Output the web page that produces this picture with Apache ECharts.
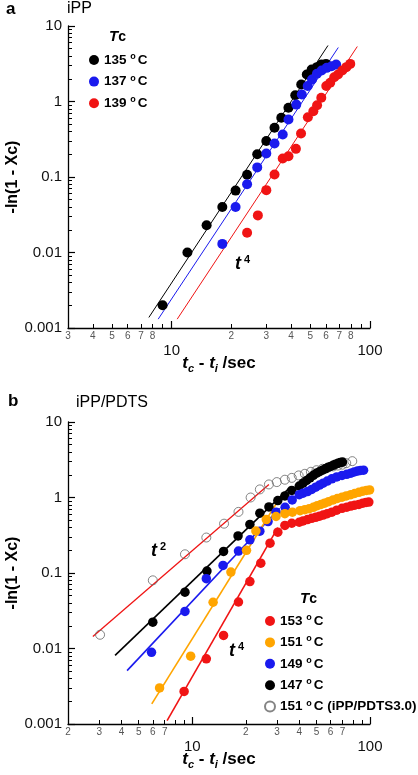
<!DOCTYPE html>
<html><head><meta charset="utf-8">
<script src="https://cdn.jsdelivr.net/npm/echarts@6/dist/echarts.min.js"></script>
<style>html,body{margin:0;padding:0;background:#fff}#c{width:418px;height:775px}</style>
</head><body><div id="c"></div>
<script>
// ---------- Panel a (iPP) ----------
const xa_135 = [9, 12, 15, 18, 21, 24, 27, 30, 33, 35.7, 38.8, 42, 45, 48, 50.8, 54, 57, 60];
const ya_135 = [0.002, 0.01, 0.023, 0.04, 0.066, 0.107, 0.2, 0.3, 0.448, 0.608, 0.825, 1.21, 1.68, 2.28, 2.65, 2.85, 3.1, 3.15];
const xa_137 = [18, 21, 24, 27, 30, 33, 36.3, 38.8, 42.5, 45.3, 48.5, 51, 54, 57, 60.5, 64, 67.5];
const ya_137 = [0.013, 0.04, 0.08, 0.134, 0.205, 0.278, 0.366, 0.577, 0.91, 1.24, 1.6, 1.96, 2.33, 2.57, 2.79, 2.93, 3.08];
const xa_139 = [24, 27.2, 30, 33, 36.3, 38.8, 42.3, 44.9, 48.6, 51.8, 54.1, 56.8, 60.2, 63, 66, 69, 72.5, 76, 79.5];
const ya_139 = [0.0183, 0.031, 0.067, 0.108, 0.176, 0.188, 0.236, 0.377, 0.62, 0.744, 0.894, 1.12, 1.6, 1.77, 2.1, 2.28, 2.57, 2.85, 3.15];
// t^4 fit lines (two end points each)
const fitA_135 = [[7.67, 0.00138], [61.4, 5.52]];
const fitA_137 = [[8.55, 0.00131], [69.2, 5.19]];
const fitA_139 = [[10.66, 0.00131], [86.3, 5.35]];
const namesA = ['135 °C', '137 °C', '139 °C'];

// ---------- Panel b (iPP/PDTS) ----------
const xb_153 = [9, 12, 15, 18.2, 21.1, 24.3, 27.4, 30.3, 33.2, 36.3, 40, 42, 44.5, 47, 49.5, 52, 54.5, 57.5, 61, 65, 69.6, 74, 78, 82, 86.6, 91, 95, 98.5];
const yb_153 = [0.0027, 0.0073, 0.0149, 0.0413, 0.077, 0.135, 0.248, 0.347, 0.426, 0.456, 0.47, 0.49, 0.51, 0.53, 0.546, 0.565, 0.586, 0.61, 0.64, 0.68, 0.72, 0.745, 0.77, 0.79, 0.81, 0.84, 0.86, 0.87];
const xb_151 = [6.55, 9.8, 13.1, 16.5, 20.2, 22.8, 26.1, 29.6, 33.2, 36.6, 40.4, 43, 45.5, 48, 50.5, 53, 55.5, 58.5, 62, 65.5, 69.6, 73.5, 78, 82, 86.6, 91, 95.5, 99.5];
const yb_151 = [0.003, 0.0079, 0.041, 0.103, 0.2, 0.36, 0.51, 0.56, 0.61, 0.64, 0.67, 0.69, 0.71, 0.74, 0.78, 0.81, 0.84, 0.88, 0.93, 0.97, 1.01, 1.05, 1.09, 1.13, 1.17, 1.21, 1.24, 1.26];
const xb_149 = [5.9, 9.1, 12, 14.9, 18.2, 21.1, 24, 26.7, 29.6, 33.3, 36.5, 40, 42, 44.5, 47, 49.5, 52, 54.5, 57.5, 61, 65, 69.6, 74, 78, 81.5, 85, 88.5, 92];
const yb_149 = [0.0089, 0.031, 0.084, 0.126, 0.195, 0.275, 0.358, 0.48, 0.64, 0.74, 0.93, 1.09, 1.14, 1.2, 1.28, 1.37, 1.46, 1.55, 1.65, 1.77, 1.87, 1.96, 2.03, 2.1, 2.18, 2.24, 2.28, 2.3];
const xb_147 = [6, 9.1, 12.1, 15, 18.1, 21.1, 24, 27, 30.3, 33.2, 36.3, 40, 42, 44, 46, 48, 50, 52, 54, 56, 58, 60, 62, 64, 66, 68, 70];
const yb_147 = [0.0223, 0.0557, 0.106, 0.193, 0.31, 0.44, 0.62, 0.75, 0.91, 1.05, 1.24, 1.42, 1.55, 1.68, 1.82, 1.97, 2.1, 2.2, 2.3, 2.4, 2.5, 2.58, 2.67, 2.76, 2.84, 2.9, 2.95];
const xb_open = [3.03, 6, 9.1, 12, 15.1, 18.2, 21.3, 24, 27, 29.9, 33.2, 36.3, 39.7, 43, 46.5, 50, 54, 58, 62, 66, 70, 73.5, 79.5];
const yb_open = [0.0152, 0.08, 0.177, 0.295, 0.45, 0.645, 1.0, 1.28, 1.49, 1.6, 1.72, 1.82, 1.96, 2.06, 2.19, 2.3, 2.4, 2.5, 2.58, 2.65, 2.72, 2.85, 3.03];
// fit lines
const fitB_open = [[2.76, 0.0144], [27.0, 1.49]];
const fitB_147 = [[3.68, 0.0081], [34.8, 1.3]];
const fitB_149 = [[4.3, 0.0051], [31.0, 0.72]];
const fitB_151 = [[5.92, 0.00185], [31.2, 1.0]];
const fitB_153 = [[7.22, 0.00111], [30.3, 0.40]];
const namesB = ['153 °C', '151 °C', '149 °C', '147 °C', '151 °C (iPP/PDTS3.0)'];

// ---------- tick labels ----------
const xMajorLabels = [10, 100];
const xMinorLabelsA = [3, 4, 5, 6, 7, 8, 20, 30, 40, 50, 60, 70, 80];
const xMinorLabelsB = [2, 3, 4, 5, 6, 7, 20, 30, 40, 50, 60, 70];
const yMajorLabels = [0.001, 0.01, 0.1, 1, 10];

function minorTicks(lo, hi) {
  const out = [];
  for (let d = lo; d < hi; d *= 10) {
    for (let k = 1; k <= 9; k++) out.push(+(k * d).toPrecision(6));
  }
  return out;
}

const FONT = '"Liberation Sans", Arial, sans-serif';
const pair = (xs, ys) => xs.map((x, i) => [x, ys[i]]);
const C_RED = '#f01414', C_BLUE = '#1a1aee', C_ORANGE = '#ffa500', C_BLACK = '#000000';

const xNameRich = {
  t: { fontSize: 17, fontWeight: 'bold', fontStyle: 'italic', fontFamily: FONT, lineHeight: 22, color: '#000' },
  s: { fontSize: 11, fontWeight: 'bold', fontStyle: 'italic', fontFamily: FONT, verticalAlign: 'bottom', color: '#000' },
  n: { fontSize: 17, fontWeight: 'bold', fontFamily: FONT, lineHeight: 22, color: '#000' }
};
const xName = '{t|t}{s|c}{n| - }{t|t}{s|i}{n| /sec}';

function xAxes(g, min, minorLabels) {
  const major = {
    type: 'log', logBase: 10, gridIndex: g, min: min, max: 100, position: 'bottom',
    axisLine: { show: true, onZero: false, lineStyle: { color: '#000', width: 1.3 } },
    axisTick: { show: true, inside: true, length: 7, customValues: xMajorLabels, lineStyle: { color: '#000', width: 1.2 } },
    axisLabel: { show: true, customValues: xMajorLabels, margin: 15, fontSize: 15, color: '#111', fontFamily: FONT, formatter: v => String(v) },
    splitLine: { show: false }, minorTick: { show: false },
    name: xName, nameLocation: 'middle', nameGap: 24, nameMoveOverlap: false,
    nameTextStyle: { rich: xNameRich }
  };
  const minor = {
    type: 'log', logBase: 10, gridIndex: g, min: min, max: 100, position: 'bottom',
    axisLine: { show: false },
    axisTick: { show: true, inside: true, length: 4, customValues: minorTicks(1, 100).filter(v => v >= min && v <= 100), lineStyle: { color: '#000', width: 1 } },
    axisLabel: { show: true, customValues: minorLabels, margin: 3, fontSize: 10, color: '#555', fontFamily: FONT,
      formatter: v => String(Math.round(v / Math.pow(10, Math.floor(Math.log10(v) + 1e-9)))) },
    splitLine: { show: false }, minorTick: { show: false }
  };
  return [major, minor];
}
function yAxes(g) {
  const major = {
    type: 'log', logBase: 10, gridIndex: g, min: 0.001, max: 10, position: 'left',
    axisLine: { show: true, onZero: false, lineStyle: { color: '#000', width: 1.3 } },
    axisTick: { show: true, inside: true, length: 7, customValues: yMajorLabels, lineStyle: { color: '#000', width: 1.2 } },
    axisLabel: { show: true, customValues: yMajorLabels, margin: 6, fontSize: 15, color: '#111', fontFamily: FONT, formatter: v => String(v) },
    splitLine: { show: false }, minorTick: { show: false },
    name: '-ln(1 - Xc)', nameLocation: 'middle', nameGap: 47, nameMoveOverlap: false,
    nameTextStyle: { fontSize: 16, fontWeight: 'bold', fontFamily: FONT, color: '#000' }
  };
  const minor = {
    type: 'log', logBase: 10, gridIndex: g, min: 0.001, max: 10, position: 'left',
    axisLine: { show: false },
    axisTick: { show: true, inside: true, length: 4, customValues: minorTicks(0.001, 10), lineStyle: { color: '#000', width: 1 } },
    axisLabel: { show: false },
    splitLine: { show: false }, minorTick: { show: false }
  };
  return [major, minor];
}

function fitLine(name, data, color, xi, yi, w) {
  return { type: 'line', name: name, xAxisIndex: xi, yAxisIndex: yi, data: data, symbol: 'none', silent: true,
    lineStyle: { color: color, width: w }, z: 1 };
}
function dots(name, xs, ys, color, xi, yi, size) {
  return { type: 'scatter', name: name, xAxisIndex: xi, yAxisIndex: yi, data: pair(xs, ys), symbol: 'circle',
    symbolSize: size, itemStyle: { color: color, opacity: 1 }, z: 3 };
}

const legendRich = {
  n: { fontSize: 13.5, fontWeight: 'bold', fontFamily: FONT, color: '#000', lineHeight: 16 },
  o: { fontSize: 9, fontWeight: 'bold', fontFamily: FONT, color: '#000', verticalAlign: 'top', padding: [0, 2, 0, 0] }
};
const legendFmt = n => { const parts = n.split(' °C'); return '{n|' + parts[0] + ' }{o|o}{n|C' + parts[1] + '}'; };

const series = [
  fitLine('fitA135', fitA_135, C_BLACK, 0, 0, 1),
  fitLine('fitA137', fitA_137, C_BLUE, 0, 0, 1),
  fitLine('fitA139', fitA_139, C_RED, 0, 0, 1),
  dots(namesA[0], xa_135, ya_135, C_BLACK, 0, 0, 10),
  dots(namesA[1], xa_137, ya_137, C_BLUE, 0, 0, 10),
  dots(namesA[2], xa_139, ya_139, C_RED, 0, 0, 10),
  fitLine('fitBopen', fitB_open, C_RED, 2, 2, 1.3),
  fitLine('fitB147', fitB_147, C_BLACK, 2, 2, 1.6),
  fitLine('fitB149', fitB_149, C_BLUE, 2, 2, 1.6),
  fitLine('fitB151', fitB_151, C_ORANGE, 2, 2, 1.6),
  fitLine('fitB153', fitB_153, C_RED, 2, 2, 1.6),
  { type: 'scatter', name: namesB[4], xAxisIndex: 2, yAxisIndex: 2, data: pair(xb_open, yb_open), symbol: 'circle',
    symbolSize: 9, itemStyle: { color: 'rgba(255,255,255,0)', borderColor: '#666', borderWidth: 1 }, z: 2 },
  dots(namesB[3], xb_147, yb_147, C_BLACK, 2, 2, 9.5),
  dots(namesB[2], xb_149, yb_149, C_BLUE, 2, 2, 9.5),
  dots(namesB[1], xb_151, yb_151, C_ORANGE, 2, 2, 9.5),
  dots(namesB[0], xb_153, yb_153, C_RED, 2, 2, 9.5)
];

const TcRich = {
  T: { fontSize: 15, fontWeight: 'bold', fontStyle: 'italic', fontFamily: FONT, fill: '#000' },
  c: { fontSize: 14, fontWeight: 'bold', fontFamily: FONT, fill: '#000' }
};
const tRich = {
  t: { fontSize: 18, fontWeight: 'bold', fontStyle: 'italic', fontFamily: FONT, fill: '#000', lineHeight: 20 },
  s: { fontSize: 11, fontWeight: 'bold', fontFamily: FONT, fill: '#000', verticalAlign: 'top', padding: [0, 0, 0, 3] }
};
function txt(x, y, text, font) {
  return { type: 'text', x: x, y: y, style: { text: text, font: font, fill: '#000', align: 'left', verticalAlign: 'middle' } };
}
function rtxt(x, y, text, rich) {
  return { type: 'text', x: x, y: y, style: { text: text, rich: rich, align: 'left', verticalAlign: 'middle' } };
}

const option = {
  animation: false,
  backgroundColor: '#fff',
  grid: [
    { left: 68, top: 26, width: 302, height: 302, containLabel: false, outerBoundsMode: 'none' },
    { left: 68, top: 422, width: 302, height: 302, containLabel: false, outerBoundsMode: 'none' }
  ],
  xAxis: [...xAxes(0, 3, xMinorLabelsA), ...xAxes(1, 2, xMinorLabelsB)],
  yAxis: [...yAxes(0), ...yAxes(1)],
  legend: [
    { data: namesA, orient: 'vertical', left: 89, top: 52, padding: 0, itemWidth: 10, itemHeight: 10, itemGap: 6.6, icon: 'circle',
      selectedMode: false, formatter: legendFmt, textStyle: { rich: legendRich } },
    { data: namesB, orient: 'vertical', left: 264, top: 613, padding: 0, itemWidth: 10, itemHeight: 10, itemGap: 6.4, icon: 'circle',
      selectedMode: false, formatter: legendFmt, textStyle: { rich: legendRich } }
  ],
  graphic: [
    txt(6, 9, 'a', 'bold 17px ' + FONT),
    txt(67, 9, 'iPP', '16px ' + FONT),
    txt(8, 401, 'b', 'bold 17px ' + FONT),
    txt(76, 403, 'iPP/PDTS', '16px ' + FONT),
    rtxt(109, 37, '{T|T}{c|c}', TcRich),
    rtxt(300, 599, '{T|T}{c|c}', TcRich),
    rtxt(235, 264, '{t|t}{s|4}', tRich),
    rtxt(151, 551, '{t|t}{s|2}', tRich),
    rtxt(229, 651, '{t|t}{s|4}', tRich)
  ],
  series: series
};
const chart = echarts.init(document.getElementById('c'), null, { renderer: 'canvas' });
chart.setOption(option);
</script>
</body></html>
